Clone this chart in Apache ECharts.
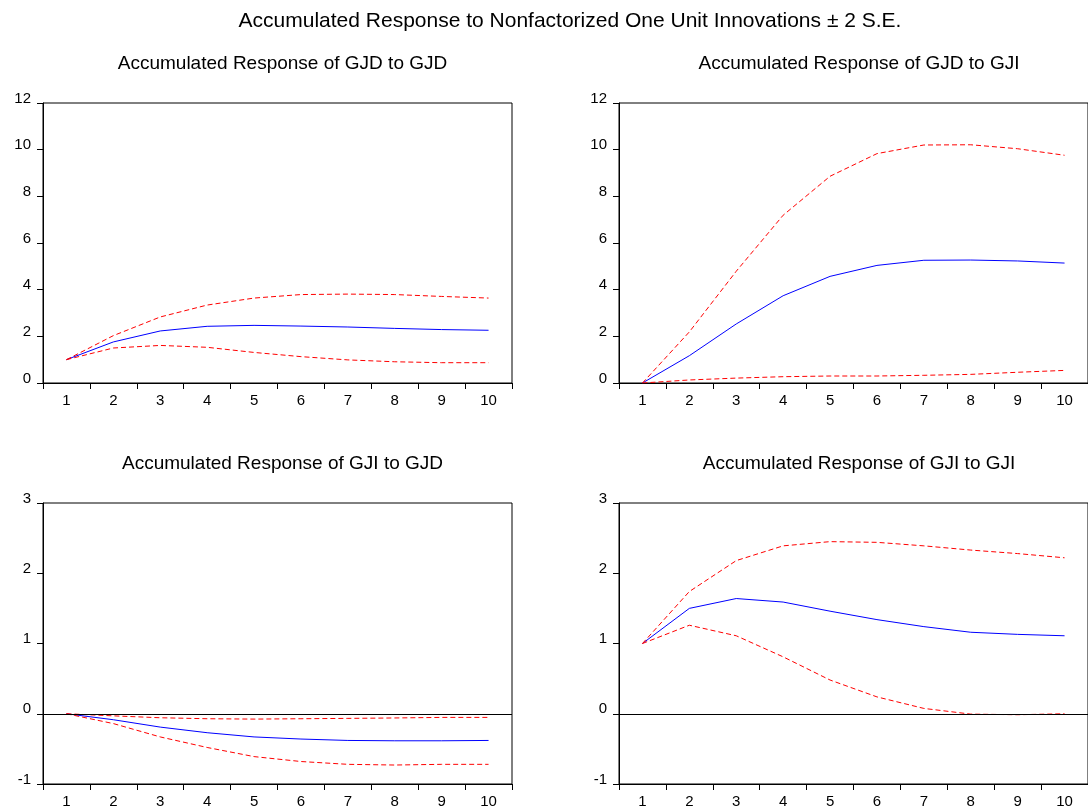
<!DOCTYPE html>
<html>
<head>
<meta charset="utf-8">
<script src="https://cdn.jsdelivr.net/npm/echarts@6/dist/echarts.min.js"></script>
<style>html,body{margin:0;padding:0;background:#fff}#c{width:1088px;height:812px}</style>
</head>
<body>
<div id="c"></div>
<script>
const periods = ['1','2','3','4','5','6','7','8','9','10'];

const mainTitle = 'Accumulated Response to Nonfactorized One Unit Innovations \u00b1 2 S.E.';
const panelTitles = [
  'Accumulated Response of GJD to GJD',
  'Accumulated Response of GJD to GJI',
  'Accumulated Response of GJI to GJD',
  'Accumulated Response of GJI to GJI'
];

// GJD to GJD
const p1Resp  = [1.00, 1.76, 2.23, 2.43, 2.47, 2.44, 2.40, 2.34, 2.29, 2.26];
const p1Upper = [1.00, 2.03, 2.83, 3.34, 3.64, 3.79, 3.81, 3.79, 3.71, 3.64];
const p1Lower = [1.00, 1.50, 1.61, 1.53, 1.31, 1.13, 0.99, 0.91, 0.87, 0.87];

// GJD to GJI
const p2Resp  = [0.00, 1.17, 2.53, 3.74, 4.57, 5.04, 5.26, 5.27, 5.23, 5.14];
const p2Upper = [0.00, 2.19, 4.79, 7.19, 8.86, 9.83, 10.20, 10.21, 10.04, 9.76];
const p2Lower = [0.00, 0.13, 0.21, 0.27, 0.30, 0.30, 0.33, 0.37, 0.46, 0.54];

// GJI to GJD
const p3Resp  = [0.00, -0.085, -0.19, -0.27, -0.33, -0.36, -0.38, -0.385, -0.385, -0.38];
const p3Upper = [0.00, -0.03, -0.057, -0.071, -0.076, -0.071, -0.066, -0.06, -0.052, -0.052];
const p3Lower = [0.00, -0.14, -0.33, -0.48, -0.61, -0.68, -0.72, -0.73, -0.72, -0.72];

// GJI to GJI
const p4Resp  = [1.00, 1.50, 1.64, 1.59, 1.46, 1.34, 1.24, 1.16, 1.13, 1.11];
const p4Upper = [1.00, 1.74, 2.18, 2.39, 2.45, 2.44, 2.39, 2.33, 2.28, 2.22];
const p4Lower = [1.00, 1.26, 1.11, 0.81, 0.48, 0.24, 0.076, -0.005, -0.014, 0.00];

const topTicks = {min: 0, max: 12, interval: 2};
const botTicks = {min: -1, max: 3, interval: 1};

const FONT = '"Liberation Sans", Arial, sans-serif';
const grids = [
  {left: 43, top: 103, width: 469, height: 280},
  {left: 619, top: 103, width: 470, height: 280},
  {left: 43, top: 503, width: 469, height: 281},
  {left: 619, top: 503, width: 470, height: 281}
];
const ranges = [topTicks, topTicks, botTicks, botTicks];
const data = [
  [p1Resp, p1Upper, p1Lower],
  [p2Resp, p2Upper, p2Lower],
  [p3Resp, p3Upper, p3Lower],
  [p4Resp, p4Upper, p4Lower]
];

const titles = [{
  text: mainTitle, left: 565, top: 6, textAlign: 'center',
  textStyle: {fontFamily: FONT, fontSize: 21, fontWeight: 'normal', color: '#000'}
}];
grids.forEach((g, i) => {
  titles.push({
    text: panelTitles[i], left: g.left + g.width / 2, top: g.top - 54, textAlign: 'center',
    textStyle: {fontFamily: FONT, fontSize: 19, fontWeight: 'normal', color: '#000'}
  });
});

const xAxes = grids.map((g, i) => ({
  type: 'category', gridIndex: i, data: periods, boundaryGap: true,
  axisLine: {show: true, onZero: false, lineStyle: {color: '#000', width: 1}},
  axisTick: {show: true, length: 6, lineStyle: {color: '#000'}},
  axisLabel: {fontFamily: FONT, fontSize: 15, color: '#000', margin: 10},
  splitLine: {show: false}
}));
const yAxes = grids.map((g, i) => ({
  type: 'value', gridIndex: i, min: ranges[i].min, max: ranges[i].max, interval: ranges[i].interval,
  axisLine: {show: true, lineStyle: {color: '#000', width: 1}},
  axisTick: {show: true, length: 6, lineStyle: {color: '#000'}},
  axisLabel: {fontFamily: FONT, fontSize: 15, color: '#000', margin: 12, verticalAlign: 'bottom', lineHeight: 9},
  splitLine: {show: false}
}));

const series = [];
data.forEach((d, i) => {
  series.push({
    type: 'line', xAxisIndex: i, yAxisIndex: i, data: d[0], symbol: 'none', silent: true,
    lineStyle: {color: '#0000ff', width: 1},
    markLine: i >= 2 ? {
      silent: true, symbol: 'none', label: {show: false},
      lineStyle: {color: '#000', width: 1, type: 'solid'},
      data: [{yAxis: 0}]
    } : undefined
  });
  series.push({
    type: 'line', xAxisIndex: i, yAxisIndex: i, data: d[1], symbol: 'none', silent: true,
    lineStyle: {color: '#ff0000', width: 1, type: [5, 3]}
  });
  series.push({
    type: 'line', xAxisIndex: i, yAxisIndex: i, data: d[2], symbol: 'none', silent: true,
    lineStyle: {color: '#ff0000', width: 1, type: [5, 3]}
  });
});

const chart = echarts.init(document.getElementById('c'));
chart.setOption({
  backgroundColor: '#fff',
  animation: false,
  title: titles,
  grid: grids.map(g => Object.assign({show: true, borderColor: '#000', borderWidth: 1, backgroundColor: 'transparent'}, g)),
  xAxis: xAxes,
  yAxis: yAxes,
  series: series
});
</script>
</body>
</html>
